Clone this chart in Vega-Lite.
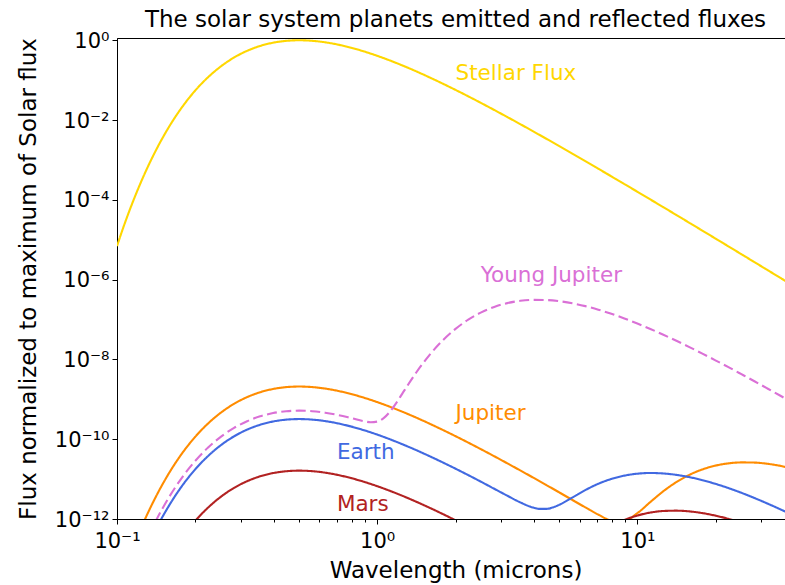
{
  "$schema": "https://vega.github.io/schema/vega-lite/v6.json",
  "width": 677,
  "height": 481,
  "autosize": {"type": "none"},
  "padding": {"left": 117, "top": 38, "right": -9, "bottom": 66},
  "background": "white",
  "title": {"text": "The solar system planets emitted and reflected fluxes", "font": "DejaVu Sans", "fontSize": 23, "fontWeight": "normal", "color": "black", "anchor": "middle", "frame": "group", "offset": -2},
  "config": {"view": {"stroke": "black", "strokeWidth": 1}, "font": "DejaVu Sans"},
  "datasets": {
    "curves": [
      {"s":"Sun","w":0.1,"f":6.92e-6},{"s":"Sun","w":0.1059,"f":2.09e-5},{"s":"Sun","w":0.1122,"f":5.83e-5},{"s":"Sun","w":0.1259,"f":3.66e-4},{"s":"Sun","w":0.1413,"f":1.77e-3},{"s":"Sun","w":0.1585,"f":6.78e-3},{"s":"Sun","w":0.1778,"f":2.10e-2},{"s":"Sun","w":0.1995,"f":5.43e-2},{"s":"Sun","w":0.2239,"f":0.1186},{"s":"Sun","w":0.2512,"f":0.2235},{"s":"Sun","w":0.2818,"f":0.3695},{"s":"Sun","w":0.3162,"f":0.5431},{"s":"Sun","w":0.3548,"f":0.7195},{"s":"Sun","w":0.3981,"f":0.8688},{"s":"Sun","w":0.4467,"f":0.9665},{"s":"Sun","w":0.5012,"f":0.9998},{"s":"Sun","w":0.5623,"f":0.9698},{"s":"Sun","w":0.631,"f":0.8894},{"s":"Sun","w":0.7079,"f":0.7766},{"s":"Sun","w":0.7943,"f":0.6494},{"s":"Sun","w":0.8913,"f":0.5231},{"s":"Sun","w":1,"f":0.4081},{"s":"Sun","w":1.122,"f":0.3096},{"s":"Sun","w":1.259,"f":0.2292},{"s":"Sun","w":1.413,"f":0.1663},{"s":"Sun","w":1.585,"f":0.1184},{"s":"Sun","w":1.778,"f":0.08308},{"s":"Sun","w":1.995,"f":0.0575},{"s":"Sun","w":2.239,"f":0.03934},{"s":"Sun","w":2.512,"f":0.02664},{"s":"Sun","w":2.818,"f":0.01789},{"s":"Sun","w":3.162,"f":0.01192},{"s":"Sun","w":3.548,"f":0.007892},{"s":"Sun","w":3.981,"f":0.005195},{"s":"Sun","w":4.467,"f":0.003402},{"s":"Sun","w":5.012,"f":0.002219},{"s":"Sun","w":5.623,"f":0.001441},{"s":"Sun","w":6.31,"f":9.33e-4},{"s":"Sun","w":7.079,"f":6.02e-4},{"s":"Sun","w":7.943,"f":3.88e-4},{"s":"Sun","w":8.913,"f":2.49e-4},{"s":"Sun","w":10,"f":1.597e-4},{"s":"Sun","w":11.22,"f":1.022e-4},{"s":"Sun","w":12.59,"f":6.53e-5},{"s":"Sun","w":14.13,"f":4.165e-5},{"s":"Sun","w":15.85,"f":2.655e-5},{"s":"Sun","w":17.78,"f":1.69e-5},{"s":"Sun","w":19.95,"f":1.0745e-5},{"s":"Sun","w":22.39,"f":6.825e-6},{"s":"Sun","w":25.12,"f":4.333e-6},{"s":"Sun","w":28.18,"f":2.749e-6},{"s":"Sun","w":31.62,"f":1.743e-6},{"s":"Sun","w":35.48,"f":1.104e-6},{"s":"Sun","w":39.81,"f":6.995e-7},{"s":"Sun","w":40,"f":6.86e-7},

      {"s":"Jupiter","w":0.1122,"f":1.218e-13},{"s":"Jupiter","w":0.1259,"f":7.66e-13},{"s":"Jupiter","w":0.1413,"f":3.70e-12},{"s":"Jupiter","w":0.1585,"f":1.416e-11},{"s":"Jupiter","w":0.1778,"f":4.40e-11},{"s":"Jupiter","w":0.1995,"f":1.135e-10},{"s":"Jupiter","w":0.2239,"f":2.479e-10},{"s":"Jupiter","w":0.2512,"f":4.671e-10},{"s":"Jupiter","w":0.2818,"f":7.722e-10},{"s":"Jupiter","w":0.3162,"f":1.135e-9},{"s":"Jupiter","w":0.3548,"f":1.504e-9},{"s":"Jupiter","w":0.3981,"f":1.816e-9},{"s":"Jupiter","w":0.4467,"f":2.020e-9},{"s":"Jupiter","w":0.5012,"f":2.090e-9},{"s":"Jupiter","w":0.5623,"f":2.027e-9},{"s":"Jupiter","w":0.631,"f":1.859e-9},{"s":"Jupiter","w":0.7079,"f":1.623e-9},{"s":"Jupiter","w":0.7943,"f":1.357e-9},{"s":"Jupiter","w":0.8913,"f":1.093e-9},{"s":"Jupiter","w":1,"f":8.53e-10},{"s":"Jupiter","w":1.122,"f":6.47e-10},{"s":"Jupiter","w":1.259,"f":4.79e-10},{"s":"Jupiter","w":1.413,"f":3.476e-10},{"s":"Jupiter","w":1.585,"f":2.475e-10},{"s":"Jupiter","w":1.778,"f":1.736e-10},{"s":"Jupiter","w":1.995,"f":1.202e-10},{"s":"Jupiter","w":2.239,"f":8.22e-11},{"s":"Jupiter","w":2.512,"f":5.57e-11},{"s":"Jupiter","w":2.818,"f":3.74e-11},{"s":"Jupiter","w":3.162,"f":2.49e-11},{"s":"Jupiter","w":3.548,"f":1.649e-11},{"s":"Jupiter","w":3.981,"f":1.086e-11},{"s":"Jupiter","w":4.467,"f":7.11e-12},{"s":"Jupiter","w":5.012,"f":4.64e-12},{"s":"Jupiter","w":5.623,"f":3.01e-12},{"s":"Jupiter","w":6.31,"f":1.956e-12},{"s":"Jupiter","w":7.079,"f":1.288e-12},{"s":"Jupiter","w":7.943,"f":9.28e-13},{"s":"Jupiter","w":8.913,"f":9.10e-13},{"s":"Jupiter","w":10,"f":1.40e-12},{"s":"Jupiter","w":11.22,"f":2.667e-12},{"s":"Jupiter","w":12.59,"f":4.98e-12},{"s":"Jupiter","w":14.13,"f":8.43e-12},{"s":"Jupiter","w":15.85,"f":1.279e-11},{"s":"Jupiter","w":17.78,"f":1.75e-11},{"s":"Jupiter","w":19.95,"f":2.176e-11},{"s":"Jupiter","w":22.39,"f":2.479e-11},{"s":"Jupiter","w":25.12,"f":2.622e-11},{"s":"Jupiter","w":28.18,"f":2.595e-11},{"s":"Jupiter","w":31.62,"f":2.422e-11},{"s":"Jupiter","w":35.48,"f":2.146e-11},{"s":"Jupiter","w":39.81,"f":1.82e-11},{"s":"Jupiter","w":40,"f":1.811e-11},

      {"s":"YoungJupiter","w":0.1259,"f":1.91e-13},{"s":"YoungJupiter","w":0.1413,"f":9.21e-13},{"s":"YoungJupiter","w":0.1585,"f":3.52e-12},{"s":"YoungJupiter","w":0.1778,"f":1.095e-11},{"s":"YoungJupiter","w":0.1995,"f":2.823e-11},{"s":"YoungJupiter","w":0.2239,"f":6.167e-11},{"s":"YoungJupiter","w":0.2512,"f":1.162e-10},{"s":"YoungJupiter","w":0.2818,"f":1.921e-10},{"s":"YoungJupiter","w":0.3162,"f":2.824e-10},{"s":"YoungJupiter","w":0.3548,"f":3.741e-10},{"s":"YoungJupiter","w":0.3981,"f":4.518e-10},{"s":"YoungJupiter","w":0.4467,"f":5.026e-10},{"s":"YoungJupiter","w":0.5012,"f":5.199e-10},{"s":"YoungJupiter","w":0.5623,"f":5.043e-10},{"s":"YoungJupiter","w":0.631,"f":4.625e-10},{"s":"YoungJupiter","w":0.7079,"f":4.038e-10},{"s":"YoungJupiter","w":0.7943,"f":3.386e-10},{"s":"YoungJupiter","w":0.8913,"f":2.813e-10},{"s":"YoungJupiter","w":0.9441,"f":2.665e-10},{"s":"YoungJupiter","w":1,"f":2.763e-10},{"s":"YoungJupiter","w":1.059,"f":3.374e-10},{"s":"YoungJupiter","w":1.122,"f":4.98e-10},{"s":"YoungJupiter","w":1.189,"f":8.43e-10},{"s":"YoungJupiter","w":1.259,"f":1.509e-9},{"s":"YoungJupiter","w":1.413,"f":4.70e-9},{"s":"YoungJupiter","w":1.585,"f":1.265e-8},{"s":"YoungJupiter","w":1.778,"f":2.914e-8},{"s":"YoungJupiter","w":1.995,"f":5.75e-8},{"s":"YoungJupiter","w":2.239,"f":9.91e-8},{"s":"YoungJupiter","w":2.512,"f":1.513e-7},{"s":"YoungJupiter","w":2.818,"f":2.073e-7},{"s":"YoungJupiter","w":3.162,"f":2.578e-7},{"s":"YoungJupiter","w":3.548,"f":2.944e-7},{"s":"YoungJupiter","w":3.981,"f":3.117e-7},{"s":"YoungJupiter","w":4.467,"f":3.086e-7},{"s":"YoungJupiter","w":5.012,"f":2.882e-7},{"s":"YoungJupiter","w":5.623,"f":2.555e-7},{"s":"YoungJupiter","w":6.31,"f":2.167e-7},{"s":"YoungJupiter","w":7.079,"f":1.767e-7},{"s":"YoungJupiter","w":7.943,"f":1.392e-7},{"s":"YoungJupiter","w":8.913,"f":1.065e-7},{"s":"YoungJupiter","w":10,"f":7.95e-8},{"s":"YoungJupiter","w":11.22,"f":5.8e-8},{"s":"YoungJupiter","w":12.59,"f":4.16e-8},{"s":"YoungJupiter","w":14.13,"f":2.93e-8},{"s":"YoungJupiter","w":15.85,"f":2.037e-8},{"s":"YoungJupiter","w":17.78,"f":1.399e-8},{"s":"YoungJupiter","w":19.95,"f":9.5e-9},{"s":"YoungJupiter","w":22.39,"f":6.4e-9},{"s":"YoungJupiter","w":25.12,"f":4.27e-9},{"s":"YoungJupiter","w":28.18,"f":2.84e-9},{"s":"YoungJupiter","w":31.62,"f":1.87e-9},{"s":"YoungJupiter","w":35.48,"f":1.226e-9},{"s":"YoungJupiter","w":39.81,"f":8.01e-10},{"s":"YoungJupiter","w":40,"f":7.87e-10},

      {"s":"Earth","w":0.1259,"f":1.17e-13},{"s":"Earth","w":0.1413,"f":5.67e-13},{"s":"Earth","w":0.1585,"f":2.168e-12},{"s":"Earth","w":0.1778,"f":6.74e-12},{"s":"Earth","w":0.1995,"f":1.737e-11},{"s":"Earth","w":0.2239,"f":3.795e-11},{"s":"Earth","w":0.2512,"f":7.152e-11},{"s":"Earth","w":0.2818,"f":1.182e-10},{"s":"Earth","w":0.3162,"f":1.738e-10},{"s":"Earth","w":0.3548,"f":2.302e-10},{"s":"Earth","w":0.3981,"f":2.78e-10},{"s":"Earth","w":0.4467,"f":3.093e-10},{"s":"Earth","w":0.5012,"f":3.199e-10},{"s":"Earth","w":0.5623,"f":3.103e-10},{"s":"Earth","w":0.631,"f":2.846e-10},{"s":"Earth","w":0.7079,"f":2.485e-10},{"s":"Earth","w":0.7943,"f":2.078e-10},{"s":"Earth","w":0.8913,"f":1.674e-10},{"s":"Earth","w":1,"f":1.306e-10},{"s":"Earth","w":1.122,"f":9.91e-11},{"s":"Earth","w":1.259,"f":7.33e-11},{"s":"Earth","w":1.413,"f":5.32e-11},{"s":"Earth","w":1.585,"f":3.79e-11},{"s":"Earth","w":1.778,"f":2.659e-11},{"s":"Earth","w":1.995,"f":1.84e-11},{"s":"Earth","w":2.239,"f":1.259e-11},{"s":"Earth","w":2.512,"f":8.52e-12},{"s":"Earth","w":2.818,"f":5.72e-12},{"s":"Earth","w":3.162,"f":3.84e-12},{"s":"Earth","w":3.548,"f":2.61e-12},{"s":"Earth","w":3.981,"f":1.93e-12},{"s":"Earth","w":4.217,"f":1.79e-12},{"s":"Earth","w":4.467,"f":1.792e-12},{"s":"Earth","w":4.732,"f":1.95e-12},{"s":"Earth","w":5.012,"f":2.273e-12},{"s":"Earth","w":5.623,"f":3.45e-12},{"s":"Earth","w":6.31,"f":5.31e-12},{"s":"Earth","w":7.079,"f":7.64e-12},{"s":"Earth","w":7.943,"f":1.009e-11},{"s":"Earth","w":8.913,"f":1.222e-11},{"s":"Earth","w":10,"f":1.368e-11},{"s":"Earth","w":11.22,"f":1.422e-11},{"s":"Earth","w":12.59,"f":1.385e-11},{"s":"Earth","w":14.13,"f":1.277e-11},{"s":"Earth","w":15.85,"f":1.121e-11},{"s":"Earth","w":17.78,"f":9.41e-12},{"s":"Earth","w":19.95,"f":7.61e-12},{"s":"Earth","w":22.39,"f":5.96e-12},{"s":"Earth","w":25.12,"f":4.53e-12},{"s":"Earth","w":28.18,"f":3.36e-12},{"s":"Earth","w":31.62,"f":2.44e-12},{"s":"Earth","w":35.48,"f":1.744e-12},{"s":"Earth","w":39.81,"f":1.225e-12},{"s":"Earth","w":40,"f":1.208e-12},

      {"s":"Mars","w":0.1778,"f":3.43e-13},{"s":"Mars","w":0.1995,"f":8.85e-13},{"s":"Mars","w":0.2239,"f":1.933e-12},{"s":"Mars","w":0.2512,"f":3.643e-12},{"s":"Mars","w":0.2818,"f":6.023e-12},{"s":"Mars","w":0.3162,"f":8.853e-12},{"s":"Mars","w":0.3548,"f":1.173e-11},{"s":"Mars","w":0.3981,"f":1.416e-11},{"s":"Mars","w":0.4467,"f":1.575e-11},{"s":"Mars","w":0.5012,"f":1.63e-11},{"s":"Mars","w":0.5623,"f":1.581e-11},{"s":"Mars","w":0.631,"f":1.45e-11},{"s":"Mars","w":0.7079,"f":1.266e-11},{"s":"Mars","w":0.7943,"f":1.059e-11},{"s":"Mars","w":0.8913,"f":8.53e-12},{"s":"Mars","w":1,"f":6.65e-12},{"s":"Mars","w":1.122,"f":5.05e-12},{"s":"Mars","w":1.259,"f":3.74e-12},{"s":"Mars","w":1.413,"f":2.71e-12},{"s":"Mars","w":1.585,"f":1.93e-12},{"s":"Mars","w":1.778,"f":1.354e-12},{"s":"Mars","w":1.995,"f":9.37e-13},{"s":"Mars","w":2.239,"f":6.41e-13},{"s":"Mars","w":2.818,"f":2.92e-13},{"s":"Mars","w":3.981,"f":8.9e-14},{"s":"Mars","w":5.623,"f":1.285e-13},{"s":"Mars","w":7.943,"f":6.61e-13},{"s":"Mars","w":8.913,"f":9.45e-13},{"s":"Mars","w":10,"f":1.221e-12},{"s":"Mars","w":11.22,"f":1.449e-12},{"s":"Mars","w":12.59,"f":1.586e-12},{"s":"Mars","w":14.13,"f":1.618e-12},{"s":"Mars","w":15.85,"f":1.55e-12},{"s":"Mars","w":17.78,"f":1.406e-12},{"s":"Mars","w":19.95,"f":1.215e-12},{"s":"Mars","w":22.39,"f":1.008e-12},{"s":"Mars","w":25.12,"f":8.07e-13},{"s":"Mars","w":28.18,"f":6.25e-13},{"s":"Mars","w":31.62,"f":4.72e-13}
    ],
    "labels": [
      {"t":"Stellar Flux","s":"Sun","w":2.0,"f":0.1},
      {"t":"Young Jupiter","s":"YoungJupiter","w":2.5,"f":8.7e-7},
      {"t":"Jupiter","s":"Jupiter","w":2.0,"f":3e-10},
      {"t":"Earth","s":"Earth","w":0.7,"f":3.2e-11},
      {"t":"Mars","s":"Mars","w":0.7,"f":1.6e-12}
    ]
  },
  "layer": [
    {
      "data": {"name": "curves"},
      "mark": {"type": "line", "interpolate": "monotone", "clip": true, "strokeWidth": 2.1},
      "encoding": {
        "x": {"field": "w", "type": "quantitative", "scale": {"type": "log", "domain": [0.1, 40], "nice": false},
          "axis": {"values": [0.1,0.2,0.3,0.4,0.5,0.6,0.7,0.8,0.9,1,2,3,4,5,6,7,8,9,10,20,30],
            "labelExpr": "datum.value == 0.1 ? '10⁻¹' : datum.value == 1 ? '10⁰' : datum.value == 10 ? '10¹' : ''",
            "title": "Wavelength (microns)", "titleFont": "DejaVu Sans", "titleFontSize": 23, "titleFontWeight": "normal", "titleColor": "black", "titlePadding": 8,
            "labelFont": "DejaVu Sans", "labelFontSize": 21, "labelColor": "black", "labelPadding": 6, "labelFlush": false, "labelOverlap": false, "labelBound": false,
            "domainColor": "black", "tickColor": "black", "grid": false,
            "tickSize": {"condition": {"test": "datum.value == 0.1 || datum.value == 1 || datum.value == 10", "value": 5}, "value": 3}}},
        "y": {"field": "f", "type": "quantitative", "scale": {"type": "log", "domain": [1e-12, 1.14], "nice": false},
          "axis": {"values": [1e-12,1e-10,1e-8,1e-6,1e-4,1e-2,1],
            "labelExpr": "datum.value >= 0.5 ? '10⁰' : datum.value >= 5e-3 ? '10⁻²' : datum.value >= 5e-5 ? '10⁻⁴' : datum.value >= 5e-7 ? '10⁻⁶' : datum.value >= 5e-9 ? '10⁻⁸' : datum.value >= 5e-11 ? '10⁻¹⁰' : '10⁻¹²'",
            "title": "Flux normalized to maximum of Solar flux", "titleFont": "DejaVu Sans", "titleFontSize": 23, "titleFontWeight": "normal", "titleColor": "black", "titlePadding": 14,
            "labelFont": "DejaVu Sans", "labelFontSize": 21, "labelColor": "black", "labelPadding": 3, "labelOffset": 1, "labelOverlap": false, "labelBound": false, "labelFlush": false,
            "domainColor": "black", "tickColor": "black", "grid": false, "tickSize": 5}},
        "color": {"field": "s", "type": "nominal", "scale": {"domain": ["Sun","Jupiter","YoungJupiter","Earth","Mars"], "range": ["#FFD700","#FF8C00","#DA70D6","#4169E1","#B22222"]}, "legend": null},
        "strokeDash": {"field": "s", "type": "nominal", "scale": {"domain": ["Sun","Jupiter","YoungJupiter","Earth","Mars"], "range": [[1,0],[1,0],[10,4.5],[1,0],[1,0]]}, "legend": null}
      }
    },
    {
      "data": {"name": "labels"},
      "mark": {"type": "text", "align": "left", "baseline": "alphabetic", "font": "DejaVu Sans", "fontSize": 21.5},
      "encoding": {
        "x": {"field": "w", "type": "quantitative"},
        "y": {"field": "f", "type": "quantitative"},
        "text": {"field": "t", "type": "nominal"},
        "color": {"field": "s", "type": "nominal", "legend": null}
      }
    }
  ]
}
